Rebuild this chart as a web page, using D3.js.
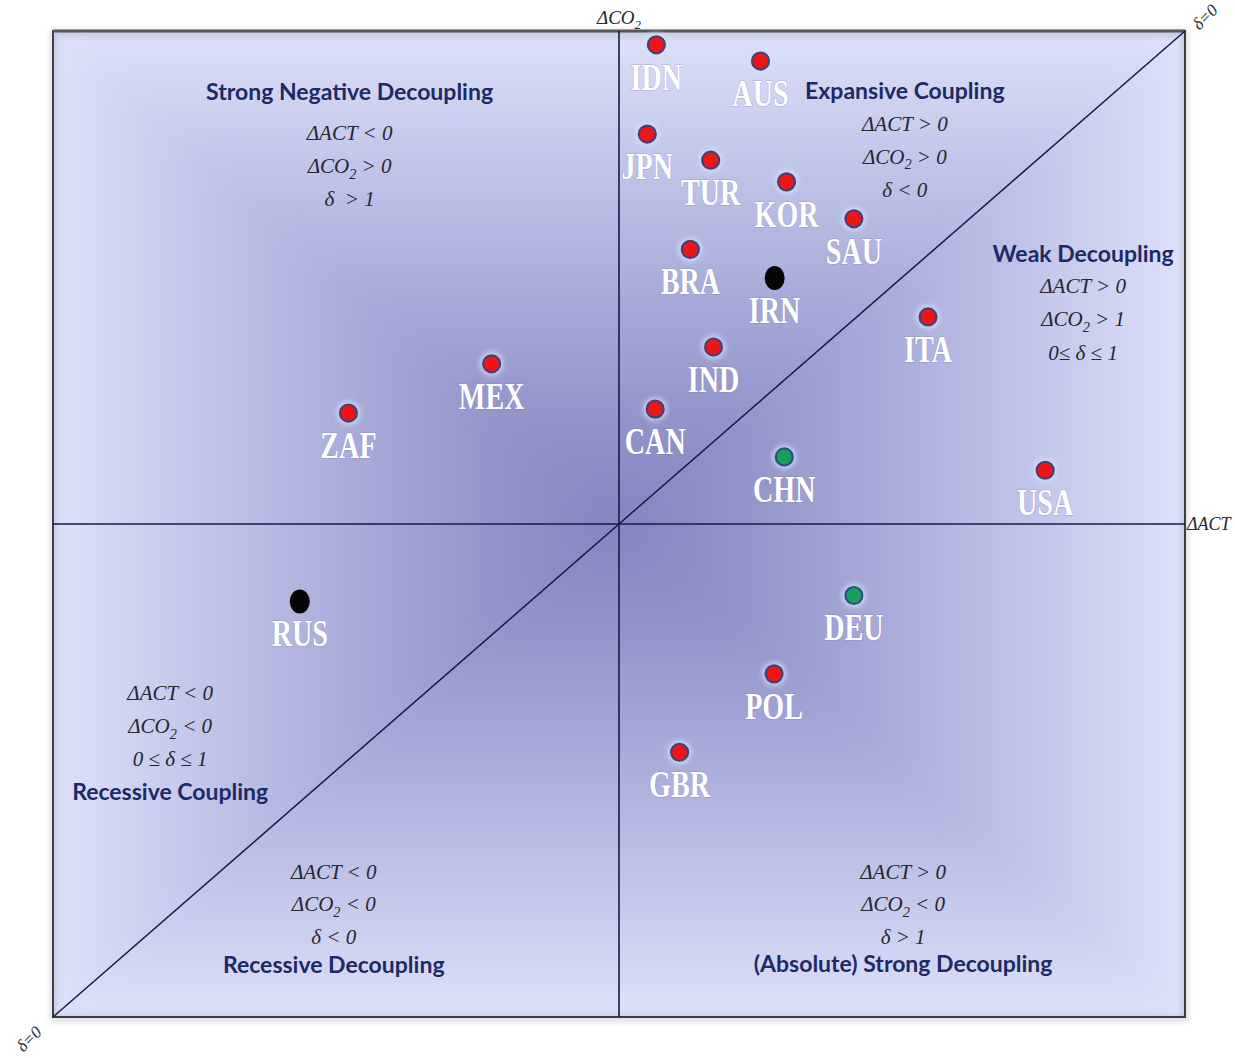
<!DOCTYPE html>
<html>
<head>
<meta charset="utf-8">
<script src="https://cdn.jsdelivr.net/npm/d3@7"></script>
<style>
  html, body { margin: 0; padding: 0; background: #ffffff; }
  svg { display: block; }
</style>
</head>
<body>
<svg id="chart" width="1235" height="1058"></svg>
<script>
// Decoupling quadrant chart: change in activity (ΔACT) vs change in CO2 (ΔCO2)
const countries = ["IDN","AUS","JPN","TUR","KOR","SAU","BRA","IRN","ITA","IND","MEX","ZAF","CAN","CHN","USA","RUS","DEU","POL","GBR"];
const actChange = [6.6, 25.0, 5.0, 16.2, 29.6, 41.5, 12.6, 27.5, 54.6, 16.7, -22.5, -47.8, 6.4, 29.2, 75.3, -56.4, 41.5, 27.4, 10.7];
const co2Change = [97.2, 93.9, 79.1, 73.8, 69.4, 61.9, 55.7, 49.9, 42.0, 35.9, 32.5, 22.5, 23.3, 13.6, 10.9, -15.7, -14.5, -30.4, -46.3];
const markerType = ["red","red","red","red","red","red","red","black","red","red","red","red","red","green","red","black","green","red","red"];

const regionTitles = ["Strong Negative Decoupling","Expansive Coupling","Weak Decoupling","Recessive Coupling","Recessive Decoupling","(Absolute) Strong Decoupling"];
const regionConditions = [
  ["ΔACT < 0", "ΔCO₂ > 0", "δ  > 1"],
  ["ΔACT > 0", "ΔCO₂ > 0", "δ < 0"],
  ["ΔACT > 0", "ΔCO₂ > 1", "0≤ δ ≤ 1"],
  ["ΔACT < 0", "ΔCO₂ < 0", "0 ≤ δ ≤ 1"],
  ["ΔACT < 0", "ΔCO₂ < 0", "δ < 0"],
  ["ΔACT > 0", "ΔCO₂ < 0", "δ > 1"]
];

const svg = d3.select("#chart");
const x = d3.scaleLinear().domain([-100, 100]).range([53, 1185]);
const y = d3.scaleLinear().domain([-100, 100]).range([1017, 31]);

const x0 = x(-100), x1 = x(100), y0 = y(100), y1 = y(-100);
const cx = x(0), cy = y(0);

const defs = svg.append("defs");

// rectangular "path" shading: dark in the middle, light at the frame
const shade = [
  [0.00, "#8483c1"],
  [0.25, "#9597cb"],
  [0.50, "#abaedb"],
  [0.75, "#c3c7eb"],
  [1.00, "#dde1f9"]
];
function addGrad(id, gx1, gy1, gx2, gy2) {
  const g = defs.append("linearGradient").attr("id", id)
    .attr("gradientUnits", "userSpaceOnUse")
    .attr("x1", gx1).attr("y1", gy1).attr("x2", gx2).attr("y2", gy2);
  shade.forEach(([o, c]) => g.append("stop").attr("offset", o).attr("stop-color", c));
}
addGrad("gTop", cx, cy, cx, y0);
addGrad("gBottom", cx, cy, cx, y1);
addGrad("gLeft", cx, cy, x0, cy);
addGrad("gRight", cx, cy, x1, cy);

defs.append("clipPath").attr("id", "plotClip")
  .append("rect").attr("x", x0).attr("y", y0).attr("width", x1 - x0).attr("height", y1 - y0);

const soft = defs.append("filter").attr("id", "soft")
  .attr("x", "-10%").attr("y", "-10%").attr("width", "120%").attr("height", "120%");
soft.append("feGaussianBlur").attr("stdDeviation", 14);

const halo = defs.append("filter").attr("id", "halo")
  .attr("x", "-100%").attr("y", "-100%").attr("width", "300%").attr("height", "300%");
halo.append("feGaussianBlur").attr("stdDeviation", 2.5);

const frameShadow = defs.append("filter").attr("id", "frameShadow")
  .attr("x", "-5%").attr("y", "-5%").attr("width", "110%").attr("height", "110%");
frameShadow.append("feGaussianBlur").attr("stdDeviation", 3);

// background
const bgClip = svg.append("g").attr("clip-path", "url(#plotClip)");
const bg = bgClip.append("g").attr("filter", "url(#soft)");
// extend the four triangles outward so the blur does not fade the edges
const ext = (px, py) => [cx + (px - cx) * 1.3, cy + (py - cy) * 1.3];
const tl = ext(x0, y0), tr = ext(x1, y0), br = ext(x1, y1), bl = ext(x0, y1);
const tri = (pts, fill) => bg.append("polygon")
  .attr("points", pts.map(p => p.join(",")).join(" ")).attr("fill", fill);
tri([[cx, cy], tl, tr], "url(#gTop)");
tri([[cx, cy], tr, br], "url(#gRight)");
tri([[cx, cy], br, bl], "url(#gBottom)");
tri([[cx, cy], bl, tl], "url(#gLeft)");

// frame
svg.append("rect").attr("x", x0).attr("y", y0 + 2).attr("width", x1 - x0).attr("height", y1 - y0)
  .attr("fill", "none").attr("stroke", "#8a8a8a").attr("stroke-width", 3).attr("opacity", 0.6)
  .attr("filter", "url(#frameShadow)");
svg.append("rect").attr("x", x0).attr("y", y0).attr("width", x1 - x0).attr("height", y1 - y0)
  .attr("fill", "none").attr("stroke", "#3d3d45").attr("stroke-width", 2);
svg.append("line").attr("x1", x0).attr("x2", x1).attr("y1", y0).attr("y2", y0)
  .attr("stroke", "#55555e").attr("stroke-width", 3);

// axes through the origin and the δ = 0 diagonal
const axisColor = "#141a48";
svg.append("line").attr("x1", x(0)).attr("x2", x(0)).attr("y1", y(100)).attr("y2", y(-100))
  .attr("stroke", axisColor).attr("stroke-width", 1.6);
svg.append("line").attr("x1", x(-100)).attr("x2", x(100)).attr("y1", y(0)).attr("y2", y(0))
  .attr("stroke", axisColor).attr("stroke-width", 1.6);
svg.append("line").attr("x1", x(-100)).attr("y1", y(-100)).attr("x2", x(100)).attr("y2", y(100))
  .attr("stroke", axisColor).attr("stroke-width", 1.5);

// formula text with a subscript 2
const mathFont = "'Liberation Serif', 'DejaVu Serif', serif";
function mathText(sel, str, size) {
  sel.attr("font-family", mathFont).attr("font-style", "italic").attr("font-size", size)
    .attr("fill", "#262630");
  const parts = str.split("₂");
  parts.forEach((p, i) => {
    if (i > 0) {
      sel.append("tspan").attr("dy", size * 0.28).attr("font-size", size * 0.68).text("2");
      sel.append("tspan").attr("dy", -size * 0.28).text(p);
    } else {
      sel.append("tspan").text(p);
    }
  });
}

// axis captions
mathText(svg.append("text").attr("x", x(0)).attr("y", 24).attr("text-anchor", "middle"), "ΔCO₂", 19);
mathText(svg.append("text").attr("x", x(100) + 2).attr("y", y(0) + 6).attr("text-anchor", "start"), "ΔACT", 18);
mathText(svg.append("text").attr("transform", `translate(${x(100) + 24},${y(100) - 10}) rotate(-45)`)
  .attr("text-anchor", "middle"), "δ=0", 17);
mathText(svg.append("text").attr("transform", `translate(${x(-100) - 20},${y(-100) + 26}) rotate(-45)`)
  .attr("text-anchor", "middle"), "δ=0", 17);

// region annotations (anchor in data units; lines stacked about 33px apart)
const blocks = [
  { x: -47.6, title: 86.0, first: 77.9, step: 33 },
  { x: 50.5, title: 86.2, first: 79.8, step: 33 },
  { x: 82.0, title: 53.1, first: 46.9, step: 33.5 },
  { x: -79.3, title: -56.0, first: -35.7, step: 33 },
  { x: -50.4, title: -91.0, first: -72.0, step: 32.5 },
  { x: 50.2, title: -90.8, first: -72.0, step: 32.5 }
];
const titleFont = "Lato, 'Open Sans', sans-serif";
blocks.forEach((b, i) => {
  const g = svg.append("g");
  g.append("text").attr("x", x(b.x)).attr("y", y(b.title)).attr("text-anchor", "middle")
    .attr("font-family", titleFont).attr("font-weight", 700).attr("font-size", 23)
    .attr("fill", "#1c2b66").text(regionTitles[i]);
  regionConditions[i].forEach((line, j) => {
    mathText(g.append("text").attr("x", x(b.x)).attr("y", y(b.first) + j * b.step)
      .attr("text-anchor", "middle").attr("xml:space", "preserve"), line, 21);
  });
});

// country markers
const fills = { red: "#ee1515", black: "#050505", green: "#17a05c" };
const rings = { red: "#4a3d78", black: "#050505", green: "#2a4f80" };
const pts = countries.map((c, i) => ({ c, ax: actChange[i], co: co2Change[i], t: markerType[i] }));

const marks = svg.append("g");
marks.selectAll("circle.halo").data(pts.filter(d => d.t !== "black")).join("circle")
  .attr("class", "halo").attr("cx", d => x(d.ax)).attr("cy", d => y(d.co)).attr("r", 12)
  .attr("fill", "#cfe6f7").attr("opacity", 0.75).attr("filter", "url(#halo)");
marks.selectAll("circle.dot").data(pts.filter(d => d.t !== "black")).join("circle")
  .attr("class", "dot").attr("cx", d => x(d.ax)).attr("cy", d => y(d.co)).attr("r", 8.5)
  .attr("fill", d => fills[d.t]).attr("stroke", d => rings[d.t]).attr("stroke-width", 2.2);
marks.selectAll("ellipse.dot").data(pts.filter(d => d.t === "black")).join("ellipse")
  .attr("class", "dot").attr("cx", d => x(d.ax)).attr("cy", d => y(d.co)).attr("rx", 10).attr("ry", 12)
  .attr("fill", fills.black);

// country codes in white under each marker (tall, narrow serif)
const labelFont = "'Liberation Serif', 'Times New Roman', serif";
marks.selectAll("text.code").data(pts).join("text")
  .attr("class", "code")
  .attr("transform", d => `translate(${x(d.ax)},${y(d.co) + 45}) scale(0.76,1)`)
  .attr("text-anchor", "middle")
  .attr("font-family", labelFont).attr("font-weight", 700).attr("font-size", 37)
  .attr("fill", "#ffffff")
  .style("paint-order", "stroke").attr("stroke", "rgba(120,120,170,0.35)").attr("stroke-width", 1.5)
  .text(d => d.c);
</script>
</body>
</html>
